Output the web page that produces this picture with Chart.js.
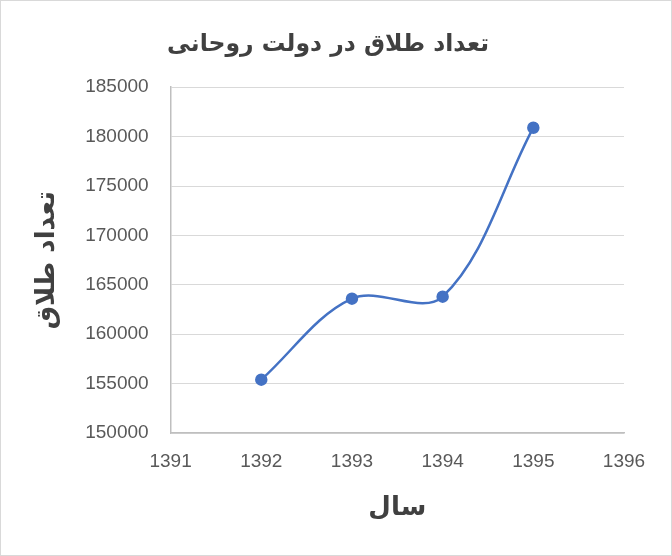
<!DOCTYPE html>
<html lang="fa">
<head>
  <meta charset="UTF-8" />
  <title>تعداد طلاق در دولت روحانی</title>
  <script src="https://cdn.jsdelivr.net/npm/chart.js"></script>
  <style>
    html, body { margin: 0; padding: 0; background: #fff; }
    .wrap { width: 670px; height: 554px; border: 1px solid #d9d9d9; }
  </style>
</head>
<body>
  <div class="wrap"><canvas id="divorceChart" width="670" height="554"></canvas></div>

  <script>
    // data
    const years = [1392, 1393, 1394, 1395];
    const divorces = [155400, 163600, 163800, 180900];
    const yTicks = [150000, 155000, 160000, 165000, 170000, 175000, 180000, 185000];
    const xTicks = [1391, 1392, 1393, 1394, 1395, 1396];

    const points = years.map((y, i) => ({ x: y, y: divorces[i] }));
    const textColor = '#595959';
    const arabicFont = '"DejaVu Sans", sans-serif';

    new Chart(document.getElementById('divorceChart'), {
      type: 'scatter',
      data: {
        datasets: [{
          data: points,
          showLine: true,
          borderColor: '#4472C4',
          backgroundColor: '#4472C4',
          borderWidth: 2.5,
          pointRadius: 5,
          cubicInterpolationMode: 'default',
          tension: 0.35
        }]
      },
      options: {
        responsive: false,
        animation: false,
        layout: { padding: { top: 30, right: 47, bottom: 31, left: 31 } },
        plugins: {
          legend: { display: false },
          tooltip: { enabled: false },
          title: {
            display: true,
            text: 'تعداد طلاق در دولت روحانی',
            color: '#404040',
            font: { family: arabicFont, size: 23.5, weight: 'bold' },
            padding: { top: 0, bottom: 28 }
          }
        },
        scales: {
          x: {
            type: 'linear',
            min: 1391,
            max: 1396,
            afterBuildTicks: axis => { axis.ticks = xTicks.map(v => ({ value: v })); },
            grid: { display: false, drawTicks: false },
            border: { display: true, color: '#bfbfbf', width: 1.5 },
            ticks: {
              color: textColor,
              padding: 17,
              font: { family: '"Liberation Sans", sans-serif', size: 19 },
              callback: v => String(v)
            },
            title: {
              display: true,
              text: 'سال',
              color: '#404040',
              font: { family: arabicFont, size: 26, weight: 'bold' },
              padding: { top: 3, bottom: 0 }
            }
          },
          y: {
            min: 150000,
            max: 185000,
            afterBuildTicks: axis => { axis.ticks = yTicks.map(v => ({ value: v })); },
            grid: { color: '#d9d9d9', drawTicks: false },
            border: { display: true, color: '#bfbfbf', width: 1.5 },
            ticks: {
              color: textColor,
              padding: 22,
              font: { family: '"Liberation Sans", sans-serif', size: 19 },
              callback: v => String(v)
            },
            title: {
              display: true,
              text: 'تعداد طلاق',
              color: '#404040',
              font: { family: arabicFont, size: 26, weight: 'bold' },
              padding: { top: 0, bottom: 0 }
            }
          }
        }
      }
    });
  </script>
</body>
</html>
